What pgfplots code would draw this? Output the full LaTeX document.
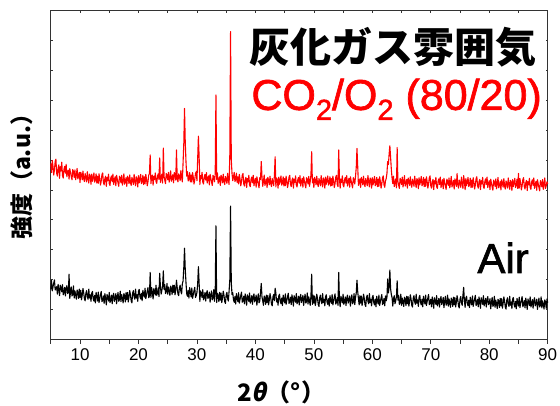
\documentclass[border=0pt]{standalone}
\usepackage{fontspec}
\setmainfont{Liberation Sans}
\newfontfamily\sansfb{Liberation Sans}[FakeBold=1.5]
\newfontfamily\jp{Noto Sans CJK JP}
\newfontfamily\jpsl{Noto Sans CJK JP}[FakeSlant=0.2]
\usepackage{pgfplots}
\usepackage{pgfplotstable}
\pgfplotsset{compat=1.18}

% XRD patterns, 2theta step 0.125 deg: CO2/O2 (80/20) ash (r), air ash (b), offset intensities
\pgfplotstableread{
x r b
5.000 5.89 1.67
5.125 5.58 1.97
5.250 5.99 1.62
5.375 5.79 1.75
5.500 5.50 1.88
5.625 5.68 1.99
5.750 5.96 1.65
5.875 6.03 1.71
6.000 5.56 1.76
6.125 5.46 1.51
6.250 5.73 1.84
6.375 5.84 1.68
6.500 5.39 1.46
6.625 5.78 1.81
6.750 5.64 1.72
6.875 5.93 1.59
7.000 5.48 1.83
7.125 5.40 1.49
7.250 5.69 1.58
7.375 5.79 1.74
7.500 5.56 1.45
7.625 5.86 1.70
7.750 5.44 1.80
7.875 5.61 1.53
8.000 5.66 1.56
8.125 5.36 2.18
8.250 5.71 1.37
8.375 5.58 1.59
8.500 5.45 1.75
8.625 5.34 1.45
8.750 5.68 1.51
8.875 5.62 1.79
9.000 5.42 1.38
9.125 5.67 1.62
9.250 5.34 1.49
9.375 5.50 1.34
9.500 5.72 1.65
9.625 5.37 1.58
9.750 5.46 1.37
9.875 5.59 1.68
10.000 5.25 1.40
10.125 5.59 1.64
10.250 5.50 1.32
10.375 5.34 1.48
10.500 5.63 1.70
10.625 5.38 1.56
10.750 5.28 1.35
10.875 5.55 1.29
11.000 5.42 1.55
11.125 5.27 1.63
11.250 5.61 1.42
11.375 5.39 1.34
11.500 5.23 1.68
11.625 5.53 1.38
11.750 5.47 1.49
11.875 5.19 1.27
12.000 5.53 1.54
12.125 5.29 1.60
12.250 5.42 1.36
12.375 5.57 1.28
12.500 5.26 1.47
12.625 5.33 1.22
12.750 5.54 1.57
12.875 5.23 1.43
13.000 5.46 1.28
13.125 5.22 1.58
13.250 5.54 1.23
13.375 5.38 1.36
13.500 5.16 1.49
13.625 5.30 1.60
13.750 5.51 1.26
13.875 5.57 1.32
14.000 5.25 1.45
14.125 5.17 1.20
14.250 5.38 1.53
14.375 5.46 1.37
14.500 5.12 1.15
14.625 5.42 1.50
14.750 5.31 1.41
14.875 5.53 1.28
15.000 5.21 1.57
15.125 5.15 1.23
15.250 5.39 1.32
15.375 5.47 1.48
15.500 5.28 1.19
15.625 5.53 1.44
15.750 5.18 1.54
15.875 5.32 1.27
16.000 5.44 1.38
16.125 5.14 1.53
16.250 5.49 1.19
16.375 5.36 1.41
16.500 5.23 1.57
16.625 5.12 1.27
16.750 5.46 1.33
16.875 5.40 1.61
17.000 5.24 1.26
17.125 5.49 1.50
17.250 5.16 1.37
17.375 5.32 1.22
17.500 5.54 1.53
17.625 5.19 1.46
17.750 5.28 1.25
17.875 5.41 1.56
18.000 5.12 1.33
18.125 5.46 1.57
18.250 5.37 1.25
18.375 5.21 1.41
18.500 5.50 1.63
18.625 5.25 1.49
18.750 5.15 1.28
18.875 5.42 1.22
19.000 5.33 1.55
19.125 5.18 1.63
19.250 5.52 1.42
19.375 5.30 1.34
19.500 5.14 1.68
19.625 5.44 1.38
19.750 5.38 1.49
19.875 5.10 1.27
20.000 5.48 1.61
20.125 5.24 1.67
20.250 5.37 1.43
20.375 5.52 1.35
20.500 5.21 1.54
20.625 5.28 1.29
20.750 5.49 1.64
20.875 5.18 1.50
21.000 5.44 1.41
21.125 5.20 1.71
21.250 5.52 1.36
21.375 5.36 1.49
21.500 5.14 1.62
21.625 5.28 1.73
21.750 5.49 1.39
21.875 5.55 1.45
22.000 6.17 2.24
22.125 5.21 1.40
22.250 5.42 1.73
22.375 5.50 1.57
22.500 5.16 1.35
22.625 5.46 1.70
22.750 5.35 1.61
22.875 5.57 1.48
23.000 5.28 1.81
23.125 5.22 1.47
23.250 5.46 1.56
23.375 5.54 1.72
23.500 5.35 1.43
23.625 6.07 2.21
23.750 5.25 1.78
23.875 5.39 1.51
24.000 5.53 1.64
24.125 5.23 1.79
24.250 6.40 2.29
24.375 5.45 1.67
24.500 5.32 1.83
24.625 5.21 1.53
24.750 5.55 1.59
24.875 5.49 1.87
25.000 5.34 1.51
25.125 5.59 1.75
25.250 5.26 1.62
25.375 5.42 1.47
25.500 5.64 1.78
25.625 5.29 1.71
25.750 5.38 1.50
25.875 5.51 1.81
26.000 5.24 1.57
26.125 5.58 1.81
26.250 5.49 1.49
26.375 5.33 1.65
26.500 6.34 1.98
26.625 5.37 1.73
26.750 5.27 1.52
26.875 5.54 1.46
27.000 5.46 1.73
27.125 5.31 1.81
27.250 5.65 1.60
27.375 5.43 1.52
27.500 5.27 1.86
27.625 5.90 1.95
27.750 6.55 2.40
27.875 7.73 3.05
28.000 6.60 2.35
28.125 5.95 1.90
28.250 5.46 1.52
28.375 5.61 1.44
28.500 5.30 1.63
28.625 5.37 1.38
28.750 5.58 1.73
28.875 5.27 1.59
29.000 5.50 1.42
29.125 5.26 1.72
29.250 5.58 1.37
29.375 5.42 1.50
29.500 5.20 1.63
29.625 5.34 1.74
29.750 5.55 1.40
29.875 5.61 1.46
30.000 5.31 1.57
30.125 6.05 1.85
30.250 6.80 2.43
30.375 6.10 1.88
30.500 5.18 1.27
30.625 5.48 1.62
30.750 5.37 1.53
30.875 5.59 1.40
31.000 5.26 1.66
31.125 5.20 1.32
31.250 5.44 1.41
31.375 5.52 1.57
31.500 5.33 1.28
31.625 5.58 1.53
31.750 5.23 1.63
31.875 5.37 1.36
32.000 5.47 1.43
32.125 5.17 1.58
32.250 5.52 1.24
32.375 5.39 1.46
32.500 5.26 1.62
32.625 5.15 1.32
32.750 5.49 1.38
32.875 5.43 1.66
33.000 5.27 1.27
33.125 5.52 1.51
33.250 8.18 3.80
33.375 5.35 1.23
33.500 5.57 1.54
33.625 5.22 1.47
33.750 5.31 1.26
33.875 5.44 1.57
34.000 5.15 1.31
34.125 5.49 1.55
34.250 5.40 1.23
34.375 5.24 1.39
34.500 5.53 1.61
34.625 5.28 1.47
34.750 5.18 1.26
34.875 5.45 1.20
35.000 5.37 1.49
35.125 5.22 1.57
35.250 5.56 1.36
35.375 5.34 1.28
35.500 5.18 1.62
35.625 6.20 2.00
35.750 10.30 4.46
35.875 6.00 1.90
36.000 5.55 1.50
36.125 5.31 1.56
36.250 5.44 1.32
36.375 5.59 1.24
36.500 5.28 1.43
36.625 5.35 1.18
36.750 5.56 1.53
36.875 5.25 1.39
37.000 5.44 1.26
37.125 5.20 1.56
37.250 5.52 1.21
37.375 5.36 1.34
37.500 5.14 1.47
37.625 5.28 1.58
37.750 5.49 1.24
37.875 5.55 1.30
38.000 5.21 1.44
38.125 5.13 1.19
38.250 5.34 1.52
38.375 5.42 1.36
38.500 5.08 1.14
38.625 5.38 1.49
38.750 5.27 1.40
38.875 5.49 1.27
39.000 5.17 1.55
39.125 5.11 1.21
39.250 5.35 1.30
39.375 5.43 1.46
39.500 5.24 1.17
39.625 5.49 1.42
39.750 5.14 1.52
39.875 5.28 1.25
40.000 5.39 1.33
40.125 5.09 1.48
40.250 5.44 1.14
40.375 5.31 1.36
40.500 5.18 1.52
40.625 5.07 1.22
40.750 5.41 1.28
40.875 5.35 1.56
41.000 5.95 1.87
41.125 5.45 1.42
41.250 5.12 1.29
41.375 5.28 1.14
41.500 5.50 1.45
41.625 5.15 1.38
41.750 5.24 1.17
41.875 5.37 1.48
42.000 5.08 1.23
42.125 5.42 1.47
42.250 5.33 1.15
42.375 5.17 1.31
42.500 5.46 1.53
42.625 5.21 1.39
42.750 5.11 1.18
42.875 5.38 1.12
43.000 5.29 1.42
43.125 5.14 1.50
43.250 5.48 1.29
43.375 6.11 1.71
43.500 5.10 1.55
43.625 5.40 1.25
43.750 5.34 1.36
43.875 5.06 1.14
44.000 5.43 1.45
44.125 5.19 1.51
44.250 5.32 1.27
44.375 5.47 1.19
44.500 5.16 1.38
44.625 5.23 1.13
44.750 5.44 1.48
44.875 5.13 1.34
45.000 5.38 1.22
45.125 5.14 1.52
45.250 5.46 1.17
45.375 5.30 1.30
45.500 5.08 1.43
45.625 5.22 1.54
45.750 5.43 1.20
45.875 5.49 1.26
46.000 5.19 1.41
46.125 5.11 1.16
46.250 5.32 1.49
46.375 5.40 1.33
46.500 5.06 1.11
46.625 5.36 1.46
46.750 5.25 1.37
46.875 5.47 1.24
47.000 5.16 1.53
47.125 5.10 1.19
47.250 5.34 1.28
47.375 5.42 1.44
47.500 5.23 1.15
47.625 5.48 1.40
47.750 5.13 1.50
47.875 5.27 1.23
48.000 5.39 1.32
48.125 5.09 1.47
48.250 5.44 1.13
48.375 5.31 1.35
48.500 5.18 1.51
48.625 5.07 1.21
48.750 5.41 1.27
48.875 5.35 1.55
49.000 5.20 1.18
49.125 5.45 1.42
49.250 5.12 1.29
49.375 5.28 1.14
49.500 5.50 1.45
49.625 6.28 2.18
49.750 5.24 1.17
49.875 5.37 1.48
50.000 5.08 1.21
50.125 5.42 1.45
50.250 5.33 1.13
50.375 5.17 1.29
50.500 5.46 1.51
50.625 5.21 1.37
50.750 5.11 1.16
50.875 5.38 1.10
51.000 5.29 1.40
51.125 5.14 1.48
51.250 5.48 1.27
51.375 5.26 1.19
51.500 5.10 1.53
51.625 5.40 1.23
51.750 5.34 1.34
51.875 5.06 1.12
52.000 5.43 1.43
52.125 5.19 1.49
52.250 5.32 1.25
52.375 5.47 1.17
52.500 5.16 1.36
52.625 5.23 1.11
52.750 5.44 1.46
52.875 5.13 1.32
53.000 5.38 1.20
53.125 5.14 1.50
53.250 5.46 1.15
53.375 5.30 1.28
53.500 5.08 1.41
53.625 5.22 1.52
53.750 5.43 1.18
53.875 5.49 1.24
54.000 5.19 1.39
54.125 5.11 1.14
54.250 6.34 2.24
54.375 5.40 1.31
54.500 5.06 1.09
54.625 5.36 1.44
54.750 5.25 1.35
54.875 5.47 1.22
55.000 5.16 1.51
55.125 5.10 1.17
55.250 5.34 1.26
55.375 5.42 1.42
55.500 5.23 1.13
55.625 5.48 1.38
55.750 5.13 1.48
55.875 5.27 1.21
56.000 5.39 1.30
56.125 5.09 1.45
56.250 5.44 1.11
56.375 5.31 1.33
56.500 5.18 1.49
56.625 5.07 1.19
56.750 5.41 1.25
56.875 5.35 1.53
57.000 5.20 1.16
57.125 5.45 1.40
57.250 5.75 1.55
57.375 6.39 1.98
57.500 5.80 1.60
57.625 5.15 1.36
57.750 5.24 1.15
57.875 5.37 1.46
58.000 5.08 1.21
58.125 5.42 1.45
58.250 5.33 1.13
58.375 5.17 1.29
58.500 5.46 1.51
58.625 5.21 1.37
58.750 5.11 1.16
58.875 5.38 1.10
59.000 5.29 1.40
59.125 5.14 1.48
59.250 5.48 1.27
59.375 5.26 1.19
59.500 5.10 1.53
59.625 5.40 1.23
59.750 5.34 1.34
59.875 5.06 1.12
60.000 5.41 1.41
60.125 5.17 1.47
60.250 5.30 1.23
60.375 5.45 1.15
60.500 5.14 1.34
60.625 5.21 1.09
60.750 5.42 1.44
60.875 5.11 1.30
61.000 5.36 1.18
61.125 5.12 1.48
61.250 5.44 1.13
61.375 5.28 1.26
61.500 5.06 1.39
61.625 5.20 1.50
61.750 5.41 1.16
61.875 5.47 1.22
62.000 5.17 1.37
62.125 5.09 1.12
62.250 5.30 1.45
62.375 5.38 1.29
62.500 5.55 1.40
62.625 5.95 2.02
62.750 5.85 1.55
62.875 6.20 1.75
63.000 6.48 2.32
63.125 6.10 1.70
63.250 5.70 1.50
63.375 5.40 1.40
63.500 5.21 1.11
63.625 5.46 1.36
63.750 5.11 1.46
63.875 5.25 1.19
64.000 5.37 1.28
64.125 5.07 1.43
64.250 6.42 1.96
64.375 5.29 1.31
64.500 5.16 1.47
64.625 5.05 1.17
64.750 5.39 1.23
64.875 5.33 1.51
65.000 5.18 1.14
65.125 5.43 1.38
65.250 5.10 1.25
65.375 5.26 1.10
65.500 5.48 1.41
65.625 5.13 1.34
65.750 5.22 1.13
65.875 5.35 1.44
66.000 5.06 1.19
66.125 5.40 1.43
66.250 5.31 1.11
66.375 5.15 1.27
66.500 5.44 1.49
66.625 5.19 1.35
66.750 5.09 1.14
66.875 5.36 1.08
67.000 5.27 1.38
67.125 5.12 1.46
67.250 5.46 1.25
67.375 5.24 1.17
67.500 5.08 1.51
67.625 5.38 1.21
67.750 5.32 1.32
67.875 5.04 1.10
68.000 5.41 1.41
68.125 5.17 1.47
68.250 5.30 1.23
68.375 5.45 1.15
68.500 5.14 1.34
68.625 5.21 1.09
68.750 5.42 1.44
68.875 5.11 1.30
69.000 5.36 1.18
69.125 5.12 1.48
69.250 5.44 1.13
69.375 5.28 1.26
69.500 5.06 1.39
69.625 5.20 1.50
69.750 5.41 1.16
69.875 5.47 1.22
70.000 5.14 1.34
70.125 5.06 1.09
70.250 5.27 1.42
70.375 5.35 1.26
70.500 5.01 1.04
70.625 5.31 1.39
70.750 5.20 1.30
70.875 5.42 1.17
71.000 5.11 1.46
71.125 5.05 1.12
71.250 5.29 1.21
71.375 5.37 1.37
71.500 5.18 1.08
71.625 5.43 1.33
71.750 5.08 1.43
71.875 5.22 1.16
72.000 5.34 1.25
72.125 5.04 1.40
72.250 5.39 1.06
72.375 5.26 1.28
72.500 5.13 1.44
72.625 5.02 1.14
72.750 5.36 1.20
72.875 5.30 1.48
73.000 5.15 1.11
73.125 5.40 1.35
73.250 5.07 1.22
73.375 5.23 1.07
73.500 5.45 1.38
73.625 5.10 1.31
73.750 5.19 1.10
73.875 5.32 1.41
74.000 5.03 1.16
74.125 5.37 1.40
74.250 5.28 1.08
74.375 5.12 1.24
74.500 5.55 1.46
74.625 5.16 1.32
74.750 5.06 1.11
74.875 5.33 1.05
75.000 5.24 1.35
75.125 5.09 1.43
75.250 5.43 1.22
75.375 5.21 1.14
75.500 5.05 1.48
75.625 5.48 1.74
75.750 5.29 1.29
75.875 5.01 1.07
76.000 5.38 1.38
76.125 5.14 1.44
76.250 5.27 1.20
76.375 5.42 1.12
76.500 5.11 1.31
76.625 5.18 1.06
76.750 5.39 1.41
76.875 5.08 1.27
77.000 5.33 1.15
77.125 5.09 1.45
77.250 5.41 1.10
77.375 5.25 1.23
77.500 5.03 1.36
77.625 5.17 1.47
77.750 5.38 1.13
77.875 5.44 1.19
78.000 5.14 1.34
78.125 5.06 1.09
78.250 5.27 1.42
78.375 5.35 1.26
78.500 5.01 1.04
78.625 5.31 1.39
78.750 5.20 1.30
78.875 5.42 1.17
79.000 5.11 1.46
79.125 5.05 1.12
79.250 5.29 1.21
79.375 5.37 1.37
79.500 5.18 1.08
79.625 5.43 1.33
79.750 5.08 1.43
79.875 5.22 1.16
80.000 5.31 1.21
80.125 5.01 1.36
80.250 5.36 1.02
80.375 5.23 1.24
80.500 5.10 1.40
80.625 4.99 1.10
80.750 5.33 1.16
80.875 5.27 1.44
81.000 5.12 1.07
81.125 5.37 1.31
81.250 5.04 1.18
81.375 5.20 1.03
81.500 5.42 1.34
81.625 5.07 1.27
81.750 5.16 1.06
81.875 5.29 1.37
82.000 5.00 1.12
82.125 5.34 1.36
82.250 5.25 1.04
82.375 5.09 1.20
82.500 5.38 1.42
82.625 5.13 1.28
82.750 5.03 1.07
82.875 5.30 1.01
83.000 5.21 1.31
83.125 5.06 1.39
83.250 5.40 1.18
83.375 5.18 1.10
83.500 5.02 1.44
83.625 5.32 1.14
83.750 5.26 1.25
83.875 4.98 1.03
84.000 5.35 1.34
84.125 5.11 1.40
84.250 5.24 1.16
84.375 5.39 1.08
84.500 5.08 1.27
84.625 5.15 1.02
84.750 5.36 1.37
84.875 5.05 1.23
85.000 5.55 1.11
85.125 5.06 1.41
85.250 5.38 1.06
85.375 5.22 1.19
85.500 5.00 1.32
85.625 5.14 1.43
85.750 5.35 1.09
85.875 5.41 1.15
86.000 5.11 1.30
86.125 5.03 1.05
86.250 5.24 1.38
86.375 5.32 1.22
86.500 4.98 1.00
86.625 5.28 1.35
86.750 5.17 1.26
86.875 5.39 1.13
87.000 5.08 1.42
87.125 5.02 1.08
87.250 5.26 1.17
87.375 5.34 1.33
87.500 5.15 1.04
87.625 5.40 1.29
87.750 5.05 1.39
87.875 5.19 1.12
88.000 5.29 1.19
88.125 4.99 1.34
88.250 5.34 1.00
88.375 5.21 1.22
88.500 5.08 1.38
88.625 4.97 1.08
88.750 5.31 1.14
88.875 5.25 1.42
89.000 5.10 1.05
89.125 5.35 1.29
89.250 5.02 1.16
89.375 5.18 1.01
89.500 5.40 1.32
89.625 5.05 1.25
89.750 5.14 1.04
89.875 5.27 1.35
90.000 5.20 1.22
}\xrd

\begin{document}
\begin{tikzpicture}
\pgfplotsset{
  frame/.style={
    at={(0,0)}, anchor=south west,
    width=496.9pt, height=328.6pt, scale only axis,
    xmin=5, xmax=90, ymin=0, ymax=11,
    axis line style={line width=0.8pt, black!80},
    tick style={line width=0.7pt, black!80},
  }
}
% top and side ticks (inward, short)
\begin{axis}[frame,
  xtick={10,20,...,90}, minor xtick={5,15,...,85},
  xtick pos=top, xticklabels={},
  ytick={1,2,...,10}, ytick pos=both, yticklabels={},
  tick align=inside, major tick length=2pt, minor tick length=2pt]
\end{axis}
% main axis with the two patterns
\begin{axis}[frame, clip=false,
  xtick={10,20,...,90}, minor xtick={5,15,...,85},
  xtick pos=bottom, ytick=\empty,
  tick align=outside, major tick length=4.5pt, minor tick length=4.5pt,
  /pgf/number format/assume math mode=true,
  xticklabel style={font=\fontsize{17}{17}\selectfont, yshift=-1pt},
]
\addplot[red, line width=1.1pt, line join=round] table[x=x, y=r] {\xrd};
\addplot[black, line width=1.1pt, line join=round] table[x=x, y=b] {\xrd};

\node[anchor=base east, inner sep=0pt] at (axis cs:88.17,9.28)
  {\jp\bfseries\fontsize{41}{41}\selectfont 灰化ガス雰囲気};
\node[anchor=base east, inner sep=0pt, text=red] at (axis cs:89.02,7.68)
  {\sansfb\fontsize{43}{43}\selectfont CO\raisebox{-10pt}{\fontsize{29}{29}\selectfont 2}/O\raisebox{-10pt}{\fontsize{29}{29}\selectfont 2} (80/20)};
\node[anchor=base east, inner sep=0pt] at (axis cs:86.80,2.22)
  {\sansfb\fontsize{42}{42}\selectfont Air};
\node[anchor=base west, inner sep=0pt] at (axis cs:36.85,-2.08)
  {\jp\bfseries\fontsize{24}{24}\selectfont 2{\jpsl\bfseries θ}（°）};
\node[rotate=90, inner sep=0pt] at (axis cs:-0.01,5.62)
  {\jp\bfseries\fontsize{23}{23}\selectfont 強度（a.u.）};
\end{axis}
\pgfresetboundingbox
\path (-50.8pt,-66.7pt) rectangle (509.2pt,339.3pt);
\end{tikzpicture}
\end{document}
